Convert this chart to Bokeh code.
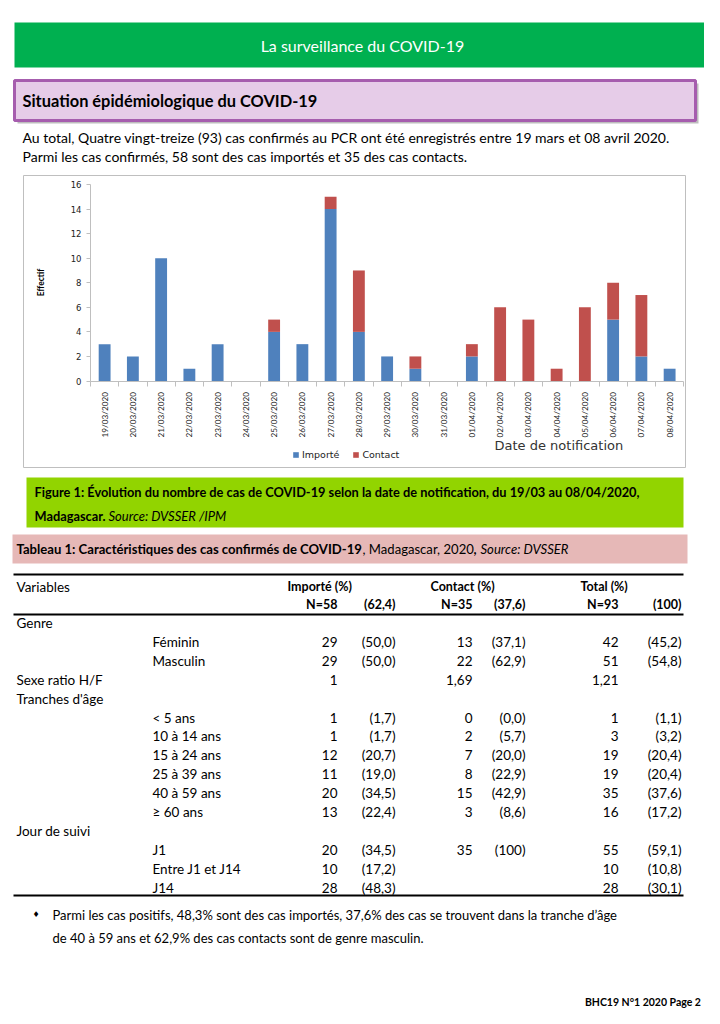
import math
from bokeh.plotting import figure
from bokeh.models import Range1d, LinearAxis, FixedTicker, ColumnDataSource, Legend, LegendItem
from bokeh.core.properties import value
from bokeh.embed import file_html
from bokeh.resources import INLINE

# ---------------- data ----------------
dates = ["19/03/2020", "20/03/2020", "21/03/2020", "22/03/2020", "23/03/2020", "24/03/2020",
         "25/03/2020", "26/03/2020", "27/03/2020", "28/03/2020", "29/03/2020", "30/03/2020",
         "31/03/2020", "01/04/2020", "02/04/2020", "03/04/2020", "04/04/2020", "05/04/2020",
         "06/04/2020", "07/04/2020", "08/04/2020"]
importe = [3, 2, 10, 1, 3, 0, 4, 3, 14, 4, 2, 1, 0, 2, 0, 0, 0, 0, 5, 2, 1]
contact = [0, 0, 0, 0, 0, 0, 1, 0, 1, 5, 0, 1, 0, 1, 6, 5, 1, 6, 3, 5, 0]
y_ticks = [0, 2, 4, 6, 8, 10, 12, 14, 16]
series_labels = ["Importé", "Contact"]
series_colors = ["#4F81BD", "#C0504D"]

col_headers = ["Importé (%)", "Contact (%)", "Total (%)"]
col_n = ["N=58", "N=35", "N=93"]
col_pct = ["(62,4)", "(37,6)", "(100)"]
row_labels = ["Genre", "Féminin", "Masculin", "Sexe ratio H/F", "Tranches d'âge", "< 5 ans",
              "10 à 14 ans", "15 à 24 ans", "25 à 39 ans", "40 à 59 ans", "≥ 60 ans",
              "Jour de suivi", "J1", "Entre J1 et J14", "J14"]
row_level = [0, 1, 1, 0, 0, 1, 1, 1, 1, 1, 1, 0, 1, 1, 1]
imp_n = ["", "29", "29", "1", "", "1", "1", "12", "11", "20", "13", "", "20", "10", "28"]
imp_p = ["", "(50,0)", "(50,0)", "", "", "(1,7)", "(1,7)", "(20,7)", "(19,0)", "(34,5)", "(22,4)", "", "(34,5)", "(17,2)", "(48,3)"]
con_n = ["", "13", "22", "1,69", "", "0", "2", "7", "8", "15", "3", "", "35", "", ""]
con_p = ["", "(37,1)", "(62,9)", "", "", "(0,0)", "(5,7)", "(20,0)", "(22,9)", "(42,9)", "(8,6)", "", "(100)", "", ""]
tot_n = ["", "42", "51", "1,21", "", "1", "3", "19", "19", "35", "16", "", "55", "10", "28"]
tot_p = ["", "(45,2)", "(54,8)", "", "", "(1,1)", "(3,2)", "(20,4)", "(20,4)", "(37,6)", "(17,2)", "", "(59,1)", "(10,8)", "(30,1)"]

title_banner = "La surveillance  du COVID-19"
section_title = "Situation épidémiologique du COVID-19"
intro_lines = ["Au total, Quatre vingt-treize (93) cas confirmés au PCR ont été enregistrés entre 19 mars et 08 avril 2020.",
               "Parmi les cas confirmés, 58 sont des cas importés et 35 des cas contacts."]
fig_caption_1 = "Figure 1: Évolution du nombre de cas de COVID-19 selon la date de notification, du 19/03 au 08/04/2020,"
fig_caption_2a = "Madagascar."
fig_caption_2b = "Source: DVSSER /IPM"
tab_caption = ["Tableau 1: Caractéristiques des cas confirmés de COVID-19", ", Madagascar, 2020", ",", "Source: DVSSER"]
bullet_lines = ["Parmi les cas positifs, 48,3% sont des cas importés, 37,6% des cas se trouvent dans la tranche d’âge",
                "de 40 à 59 ans et 62,9% des cas contacts sont de genre masculin."]
footer = "BHC19 N°1 2020  Page 2"

# ---------------- page figure ----------------
PX0, PX1, PY0, PY1 = 0, 704, 0, 1008
p = figure(width=704, height=1008, x_range=Range1d(PX0, PX1), y_range=Range1d(PY1, PY0),
           output_backend="svg", toolbar_location=None, x_axis_location=None, y_axis_location=None,
           min_border=0, min_border_left=0, min_border_right=0, min_border_top=0, min_border_bottom=0)
p.grid.visible = False
p.outline_line_color = None
p.background_fill_color = "white"
p.border_fill_color = "white"

FONT = "Lato"


def txt(x, y, s, size, style="normal", color="#000000", align="left", font=FONT, angle=0.0):
    p.text(x=[x], y=[y], text=[s], text_font=value(font), text_font_size=f"{size}px",
           text_font_style=style, text_color=color, text_align=align, text_baseline="middle",
           angle=angle)


# header banner
p.quad(left=14, right=712, top=22, bottom=67, fill_color="#00B050", line_color=None)
txt(364, 45, title_banner, 16, color="white", align="center")

# section title box
p.quad(left=17, right=698, top=83, bottom=123, fill_color="#BDBDBD", line_color=None)
p.quad(left=14, right=695, top=80, bottom=120, fill_color="#E6CCE8", line_color="#A65DAE", line_width=3)
txt(22, 100, section_title, 16.4, style="bold")

for i, line in enumerate(intro_lines):
    txt(22, 137 + i * 19, line, 14)

# chart box
p.quad(left=23, right=685, top=175, bottom=467, fill_color="white", line_color="#BFBFBF", line_width=1)

AX_X, AX_Y0, AX_YTOP, STEP = 90.0, 380.5, 184.0, 28.25
k = (AX_Y0 - AX_YTOP) / y_ticks[-1]
p.extra_y_ranges = {"count": Range1d(start=(AX_Y0 - PY1) / k, end=(AX_Y0 - PY0) / k)}
p.extra_x_ranges = {"days": Range1d(start=(PX0 - AX_X) / STEP - 0.5, end=(PX1 - AX_X) / STEP - 0.5)}

idx = list(range(len(dates)))
src = ColumnDataSource(dict(idx=idx, importe=importe, contact=contact))
bars = p.vbar_stack(["importe", "contact"], x="idx", width=0.42, color=series_colors,
                    line_color=None, source=src, x_range_name="days", y_range_name="count")

yax = LinearAxis(y_range_name="count", fixed_location=AX_X, bounds=(y_ticks[0], y_ticks[-1]),
                 ticker=FixedTicker(ticks=y_ticks))
yax.axis_line_color = "#BFBFBF"
yax.major_tick_line_color = "#BFBFBF"
yax.major_tick_out = 4
yax.major_tick_in = 0
yax.minor_tick_line_color = None
yax.major_label_text_font = "DejaVu Sans"
yax.major_label_text_font_size = "8.5px"
yax.major_label_text_color = "#222222"
yax.major_label_standoff = 5
p.add_layout(yax, "left")

xax = LinearAxis(x_range_name="days", y_range_name="count", fixed_location=0,
                 bounds=(-0.5, len(dates) - 0.5),
                 ticker=FixedTicker(ticks=idx, minor_ticks=[i - 0.5 for i in range(len(dates) + 1)]))
xax.major_label_overrides = {i: d for i, d in enumerate(dates)}
xax.major_label_orientation = math.pi / 2
xax.axis_line_color = "#BFBFBF"
xax.major_tick_line_color = None
xax.minor_tick_line_color = "#BFBFBF"
xax.minor_tick_out = 5
xax.minor_tick_in = 0
xax.major_label_text_font = FONT
xax.major_label_text_font_size = "8.2px"
xax.major_label_text_color = "#222222"
xax.major_label_standoff = 5
p.add_layout(xax, "below")

txt(40, 282, "Effectif", 8.5, style="bold", align="center", angle=math.pi / 2)
txt(494, 445, "Date de notification", 13, color="#333333", font="DejaVu Sans")

legend = Legend(items=[LegendItem(label=series_labels[i], renderers=[bars[i]]) for i in range(2)],
                orientation="horizontal", location=(292 - PX0, PY1 - 460),
                glyph_width=7, glyph_height=7, label_height=10, label_width=10,
                label_text_font="DejaVu Sans", label_text_font_size="9.5px", label_text_color="#222222",
                padding=0, margin=0, spacing=13, label_standoff=3,
                border_line_color=None, background_fill_alpha=0)
p.add_layout(legend)

# figure caption
p.quad(left=26, right=683, top=477, bottom=527, fill_color="#92D400", line_color=None)
txt(34, 491, fig_caption_1, 12.8, style="bold")
txt(34, 515, fig_caption_2a, 12.8, style="bold")
txt(108, 515, fig_caption_2b, 13, style="italic")

# table caption
p.quad(left=12, right=687, top=534, bottom=563, fill_color="#E6B8B7", line_color=None)
txt(16, 548, tab_caption[0], 13.1, style="bold")
txt(362, 548, tab_caption[1], 13.1)
txt(473, 548, tab_caption[2], 13.1, style="bold")
txt(480, 548, tab_caption[3], 13.1, style="italic")

# table
for yy in (574, 614, 895):
    p.segment(x0=[13], x1=[683], y0=[yy], y1=[yy], line_color="black", line_width=2)

txt(16, 586, "Variables", 13.5)
hdr_x = [287, 430, 580]
n_x = [337, 472, 618]
pct_x = [395, 525, 681]
for j in range(3):
    txt(hdr_x[j], 586, col_headers[j], 12.5, style="bold")
    txt(n_x[j], 604, col_n[j], 12.5, style="bold", align="right")
    txt(pct_x[j], 604, col_pct[j], 12.5, style="bold", align="right")

ROW0, ROWH = 622.5, 18.9
row_y = [ROW0 + i * ROWH for i in range(len(row_labels))]
row_x = [16 if lv == 0 else 152 for lv in row_level]
p.text(x=row_x, y=row_y, text=row_labels, text_font=value(FONT), text_font_size="13.5px",
       text_baseline="middle", text_align="left", text_color="black")
for colx, vals in zip(n_x + pct_x, [imp_n, con_n, tot_n, imp_p, con_p, tot_p]):
    p.text(x=[colx] * len(vals), y=row_y, text=vals, text_font=value(FONT), text_font_size="13.5px",
           text_baseline="middle", text_align="right", text_color="black")

# bullet text
txt(32, 914, "♦", 8, font="DejaVu Sans")
for i, line in enumerate(bullet_lines):
    txt(52, 914 + i * 23, line, 13)

txt(703, 1001, footer, 10.5, style="bold", align="right")

open("out.html", "w").write(file_html(p, INLINE))
